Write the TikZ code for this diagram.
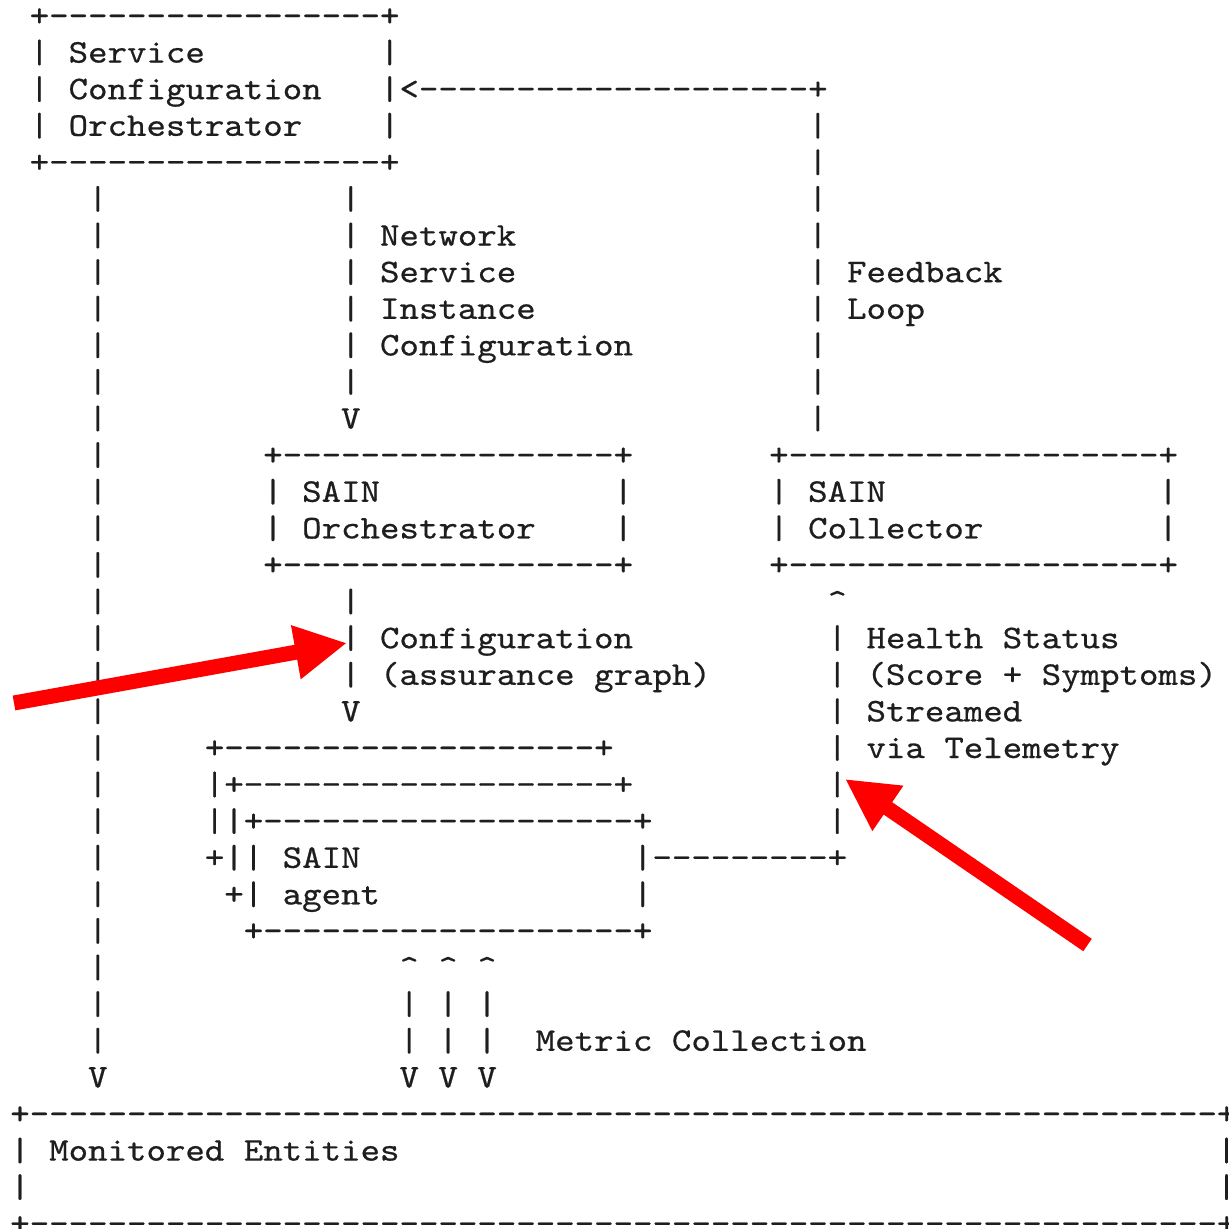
\documentclass[tikz,border=0pt]{standalone}
\usepackage{fontspec}
\setmonofont{lmmono10-regular.otf}[FakeStretch=1.12,FakeBold=0.6]
\usetikzlibrary{arrows.meta}

% a run of n hyphens
\ExplSyntaxOn
\cs_new:Npn \dashrun #1 { \prg_replicate:nn {#1} {-} }
\ExplSyntaxOff

\definecolor{ink}{RGB}{30,30,30}
\definecolor{marker}{RGB}{255,0,0}

% one fragment of the character grid: column, row, text
\newcommand\cell[3]{\node[ascii] (c#1r#2) at ({10.27+19.46*#1},{26+36.6*#2}) {#3};}

\begin{document}
\begin{tikzpicture}[x=0.5pt,y=-0.5pt,
  ascii/.style={anchor=base west, inner sep=0pt, outer sep=0pt, text=ink,
    font=\ttfamily\fontsize{16.55}{18}\selectfont},
  pointer/.style={draw=marker, line width=7.5pt,
    -{Triangle[length=26pt,width=25.5pt]}}]
\useasboundingbox (0,0) rectangle (1229,1229);

% Service Configuration Orchestrator
\cell{1}{0}{+\dashrun{17}+}
\cell{1}{1}{| Service}            \cell{19}{1}{|}
\cell{1}{2}{| Configuration}      \cell{19}{2}{|<\dashrun{20}+}
\cell{1}{3}{| Orchestrator}       \cell{19}{3}{|}
\cell{1}{4}{+\dashrun{17}+}

% feedback loop riser
\foreach \r in {3,4,5,6,9,10,11} {\cell{41}{\r}{|}}
\cell{41}{7}{| Feedback}
\cell{41}{8}{| Loop}

% long line down to the monitored entities
\foreach \r in {5,...,28} {\cell{4}{\r}{|}}
\cell{4}{29}{V}

% network service instance configuration
\cell{17}{5}{|}
\cell{17}{6}{| Network}
\cell{17}{7}{| Service}
\cell{17}{8}{| Instance}
\cell{17}{9}{| Configuration}
\cell{17}{10}{|}
\cell{17}{11}{V}

% SAIN Orchestrator and SAIN Collector
\cell{13}{12}{+\dashrun{17}+}     \cell{39}{12}{+\dashrun{19}+}
\cell{13}{13}{| SAIN}             \cell{31}{13}{|}
\cell{39}{13}{| SAIN}             \cell{59}{13}{|}
\cell{13}{14}{| Orchestrator}     \cell{31}{14}{|}
\cell{39}{14}{| Collector}        \cell{59}{14}{|}
\cell{13}{15}{+\dashrun{17}+}     \cell{39}{15}{+\dashrun{19}+}

% configuration (assurance graph)
\cell{17}{16}{|}
\cell{17}{17}{| Configuration}
\cell{17}{18}{| (assurance graph)}
\cell{17}{19}{V}

% health status
\cell{42}{16}{\textasciicircum}
\cell{42}{17}{| Health Status}
\cell{42}{18}{| (Score + Symptoms)}
\cell{42}{19}{| Streamed}
\cell{42}{20}{| via Telemetry}
\cell{42}{21}{|}
\cell{42}{22}{|}

% stacked SAIN agents
\cell{10}{20}{+\dashrun{19}+}
\cell{10}{21}{|+\dashrun{19}+}
\cell{10}{22}{||+\dashrun{19}+}
\cell{10}{23}{+|| SAIN}           \cell{32}{23}{|\dashrun{9}+}
\cell{11}{24}{+| agent}           \cell{32}{24}{|}
\cell{12}{25}{+\dashrun{19}+}

% metric collection
\foreach \c in {20,22,24} {
  \cell{\c}{26}{\textasciicircum}
  \cell{\c}{27}{|}
  \cell{\c}{28}{|}
  \cell{\c}{29}{V}
}
\cell{27}{28}{Metric Collection}

% Monitored Entities
\cell{0}{30}{+\dashrun{61}+}
\cell{0}{31}{| Monitored Entities}  \cell{62}{31}{|}
\cell{0}{32}{|}                     \cell{62}{32}{|}
\cell{0}{33}{+\dashrun{61}+}

% red pointers
\coordinate (p1tail) at (14,703);
\coordinate (p1tip)  at (347,643);
\coordinate (p2tail) at (1087.5,945);
\coordinate (p2tip)  at (845,779);
\draw[pointer] (p1tail) -- (p1tip);
\draw[pointer] (p2tail) -- (p2tip);
\end{tikzpicture}
\end{document}
